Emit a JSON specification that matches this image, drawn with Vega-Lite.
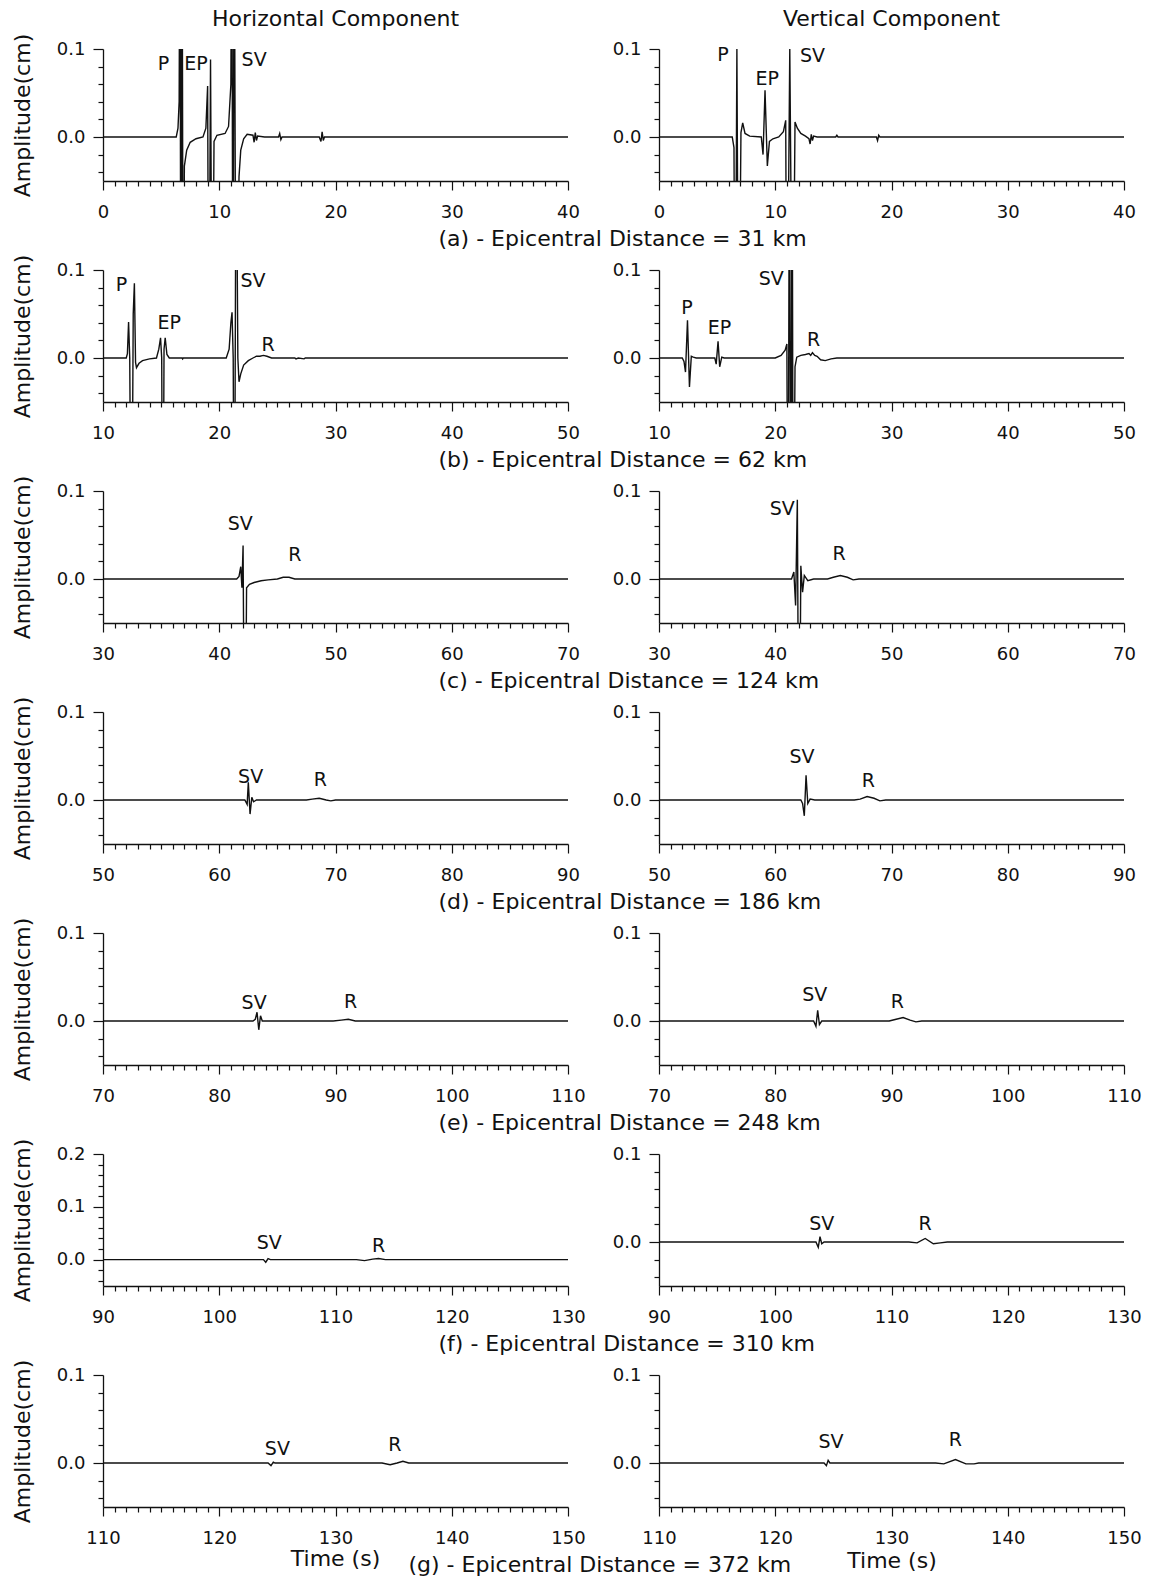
{
"$schema": "https://vega.github.io/schema/vega-lite/v6.json",
"padding": {"left": 11, "top": 8, "right": 5, "bottom": 5},
"background": "white",
"datasets": {
"traces": [
{"p":"aH","t":0,"a":0},{"p":"aH","t":6.3,"a":0},{"p":"aH","t":6.45,"a":0.01},{"p":"aH","t":6.55,"a":0.04},{"p":"aH","t":6.62,"a":0.3},{"p":"aH","t":6.7,"a":-0.3},{"p":"aH","t":6.8,"a":0.3},{"p":"aH","t":6.9,"a":-0.3},{"p":"aH","t":7.0,"a":-0.033},{"p":"aH","t":7.2,"a":-0.015},{"p":"aH","t":7.5,"a":-0.006},{"p":"aH","t":8.0,"a":-0.002},{"p":"aH","t":8.6,"a":0},{"p":"aH","t":8.85,"a":0.01},{"p":"aH","t":9.0,"a":0.058},{"p":"aH","t":9.1,"a":-0.3},{"p":"aH","t":9.25,"a":0.088},{"p":"aH","t":9.4,"a":-0.3},{"p":"aH","t":9.55,"a":-0.005},{"p":"aH","t":9.8,"a":0.002},{"p":"aH","t":10.5,"a":0.004},{"p":"aH","t":10.8,"a":0.012},{"p":"aH","t":11.0,"a":0.06},{"p":"aH","t":11.08,"a":0.3},{"p":"aH","t":11.18,"a":-0.3},{"p":"aH","t":11.28,"a":0.3},{"p":"aH","t":11.45,"a":-0.3},{"p":"aH","t":11.7,"a":-0.045},{"p":"aH","t":11.85,"a":-0.015},{"p":"aH","t":12.1,"a":-0.002},{"p":"aH","t":12.4,"a":0.003},{"p":"aH","t":12.9,"a":0.002},{"p":"aH","t":13.0,"a":-0.006},{"p":"aH","t":13.1,"a":0.005},{"p":"aH","t":13.2,"a":-0.004},{"p":"aH","t":13.3,"a":0.001},{"p":"aH","t":13.9,"a":0},{"p":"aH","t":15.1,"a":0},{"p":"aH","t":15.2,"a":0.004},{"p":"aH","t":15.3,"a":-0.003},{"p":"aH","t":15.4,"a":0},{"p":"aH","t":18.6,"a":0},{"p":"aH","t":18.75,"a":-0.005},{"p":"aH","t":18.85,"a":0.006},{"p":"aH","t":18.95,"a":-0.004},{"p":"aH","t":19.05,"a":0},{"p":"aH","t":40,"a":0},
{"p":"aV","t":0,"a":0},{"p":"aV","t":6.3,"a":0},{"p":"aV","t":6.45,"a":-0.012},{"p":"aV","t":6.55,"a":-0.3},{"p":"aV","t":6.7,"a":0.1},{"p":"aV","t":6.85,"a":-0.3},{"p":"aV","t":7.05,"a":0.005},{"p":"aV","t":7.2,"a":0.016},{"p":"aV","t":7.4,"a":0.004},{"p":"aV","t":7.8,"a":0.001},{"p":"aV","t":8.8,"a":0},{"p":"aV","t":8.95,"a":-0.02},{"p":"aV","t":9.12,"a":0.053},{"p":"aV","t":9.32,"a":-0.033},{"p":"aV","t":9.5,"a":-0.005},{"p":"aV","t":9.8,"a":-0.002},{"p":"aV","t":10.3,"a":0},{"p":"aV","t":10.7,"a":0.006},{"p":"aV","t":10.9,"a":0.019},{"p":"aV","t":11.0,"a":-0.3},{"p":"aV","t":11.25,"a":0.1},{"p":"aV","t":11.5,"a":-0.3},{"p":"aV","t":11.7,"a":0.017},{"p":"aV","t":11.9,"a":0.01},{"p":"aV","t":12.2,"a":0.004},{"p":"aV","t":12.6,"a":0.001},{"p":"aV","t":12.9,"a":-0.002},{"p":"aV","t":13.0,"a":-0.008},{"p":"aV","t":13.1,"a":0.003},{"p":"aV","t":13.2,"a":-0.004},{"p":"aV","t":13.3,"a":0.001},{"p":"aV","t":13.6,"a":0},{"p":"aV","t":15.2,"a":0},{"p":"aV","t":15.3,"a":0.002},{"p":"aV","t":15.4,"a":0},{"p":"aV","t":18.7,"a":0},{"p":"aV","t":18.8,"a":-0.004},{"p":"aV","t":18.9,"a":0.002},{"p":"aV","t":19.0,"a":0},{"p":"aV","t":40,"a":0},
{"p":"bH","t":10,"a":0},{"p":"bH","t":12.0,"a":0},{"p":"bH","t":12.1,"a":0.005},{"p":"bH","t":12.2,"a":0.041},{"p":"bH","t":12.3,"a":0},{"p":"bH","t":12.45,"a":-0.3},{"p":"bH","t":12.6,"a":0.05},{"p":"bH","t":12.7,"a":0.085},{"p":"bH","t":12.8,"a":-0.005},{"p":"bH","t":12.88,"a":-0.011},{"p":"bH","t":13.1,"a":-0.006},{"p":"bH","t":13.4,"a":-0.003},{"p":"bH","t":14.0,"a":-0.001},{"p":"bH","t":14.6,"a":0},{"p":"bH","t":14.8,"a":0.01},{"p":"bH","t":14.95,"a":0.023},{"p":"bH","t":15.05,"a":0},{"p":"bH","t":15.15,"a":-0.3},{"p":"bH","t":15.25,"a":0.01},{"p":"bH","t":15.35,"a":0.023},{"p":"bH","t":15.5,"a":0.004},{"p":"bH","t":15.7,"a":0},{"p":"bH","t":16.8,"a":0},{"p":"bH","t":16.85,"a":-0.001},{"p":"bH","t":16.9,"a":0},{"p":"bH","t":20.6,"a":0},{"p":"bH","t":20.85,"a":0.01},{"p":"bH","t":21.0,"a":0.04},{"p":"bH","t":21.1,"a":0.052},{"p":"bH","t":21.2,"a":0},{"p":"bH","t":21.3,"a":-0.3},{"p":"bH","t":21.45,"a":0.3},{"p":"bH","t":21.6,"a":0},{"p":"bH","t":21.7,"a":-0.027},{"p":"bH","t":21.85,"a":-0.018},{"p":"bH","t":22.1,"a":-0.008},{"p":"bH","t":22.5,"a":-0.003},{"p":"bH","t":22.9,"a":0},{"p":"bH","t":23.2,"a":0.002},{"p":"bH","t":23.5,"a":0.002},{"p":"bH","t":23.8,"a":0.003},{"p":"bH","t":24.1,"a":0.002},{"p":"bH","t":24.5,"a":0},{"p":"bH","t":26.5,"a":0},{"p":"bH","t":26.6,"a":-0.001},{"p":"bH","t":26.8,"a":0},{"p":"bH","t":27.3,"a":-0.001},{"p":"bH","t":27.4,"a":0},{"p":"bH","t":50,"a":0},
{"p":"bV","t":10,"a":0},{"p":"bV","t":12.0,"a":0},{"p":"bV","t":12.15,"a":-0.004},{"p":"bV","t":12.28,"a":-0.016},{"p":"bV","t":12.45,"a":0.043},{"p":"bV","t":12.62,"a":-0.033},{"p":"bV","t":12.78,"a":0.002},{"p":"bV","t":12.95,"a":0.001},{"p":"bV","t":13.2,"a":0},{"p":"bV","t":14.8,"a":0},{"p":"bV","t":14.92,"a":-0.007},{"p":"bV","t":15.08,"a":0.019},{"p":"bV","t":15.22,"a":-0.01},{"p":"bV","t":15.4,"a":0.001},{"p":"bV","t":15.6,"a":0},{"p":"bV","t":20.0,"a":0},{"p":"bV","t":20.5,"a":0.003},{"p":"bV","t":20.85,"a":0.009},{"p":"bV","t":21.0,"a":0.016},{"p":"bV","t":21.1,"a":-0.3},{"p":"bV","t":21.22,"a":0.3},{"p":"bV","t":21.35,"a":-0.3},{"p":"bV","t":21.45,"a":0.3},{"p":"bV","t":21.55,"a":-0.3},{"p":"bV","t":21.7,"a":-0.01},{"p":"bV","t":21.85,"a":0.001},{"p":"bV","t":22.2,"a":0.003},{"p":"bV","t":22.6,"a":0.004},{"p":"bV","t":22.9,"a":0.005},{"p":"bV","t":23.05,"a":0.003},{"p":"bV","t":23.2,"a":0.006},{"p":"bV","t":23.4,"a":0.003},{"p":"bV","t":23.6,"a":0.002},{"p":"bV","t":23.9,"a":-0.002},{"p":"bV","t":24.3,"a":-0.003},{"p":"bV","t":24.8,"a":-0.001},{"p":"bV","t":25.3,"a":0},{"p":"bV","t":50,"a":0},
{"p":"cH","t":30,"a":0},{"p":"cH","t":41.5,"a":0},{"p":"cH","t":41.7,"a":0.003},{"p":"cH","t":41.85,"a":0.014},{"p":"cH","t":41.95,"a":-0.01},{"p":"cH","t":42.05,"a":0.038},{"p":"cH","t":42.2,"a":-0.3},{"p":"cH","t":42.35,"a":-0.01},{"p":"cH","t":42.6,"a":-0.006},{"p":"cH","t":43.0,"a":-0.004},{"p":"cH","t":43.6,"a":-0.002},{"p":"cH","t":44.2,"a":-0.001},{"p":"cH","t":45.0,"a":0},{"p":"cH","t":45.5,"a":0.002},{"p":"cH","t":46.0,"a":0.002},{"p":"cH","t":46.5,"a":0},{"p":"cH","t":70,"a":0},
{"p":"cV","t":30,"a":0},{"p":"cV","t":41.4,"a":0},{"p":"cV","t":41.6,"a":0.008},{"p":"cV","t":41.75,"a":-0.03},{"p":"cV","t":41.9,"a":0.09},{"p":"cV","t":42.05,"a":-0.3},{"p":"cV","t":42.2,"a":0.015},{"p":"cV","t":42.35,"a":-0.015},{"p":"cV","t":42.5,"a":0.004},{"p":"cV","t":42.8,"a":-0.002},{"p":"cV","t":43.3,"a":0},{"p":"cV","t":44.5,"a":0},{"p":"cV","t":45.0,"a":0.002},{"p":"cV","t":45.6,"a":0.004},{"p":"cV","t":46.2,"a":0.002},{"p":"cV","t":46.7,"a":-0.001},{"p":"cV","t":47.2,"a":0},{"p":"cV","t":70,"a":0},
{"p":"dH","t":50,"a":0},{"p":"dH","t":62.2,"a":0},{"p":"dH","t":62.4,"a":-0.005},{"p":"dH","t":62.5,"a":0.02},{"p":"dH","t":62.65,"a":-0.016},{"p":"dH","t":62.8,"a":0.003},{"p":"dH","t":62.95,"a":-0.002},{"p":"dH","t":63.2,"a":0},{"p":"dH","t":67.5,"a":0},{"p":"dH","t":68.0,"a":0.001},{"p":"dH","t":68.6,"a":0.002},{"p":"dH","t":69.2,"a":0},{"p":"dH","t":69.6,"a":-0.001},{"p":"dH","t":70,"a":0},{"p":"dH","t":90,"a":0},
{"p":"dV","t":50,"a":0},{"p":"dV","t":62.2,"a":0},{"p":"dV","t":62.35,"a":-0.004},{"p":"dV","t":62.5,"a":-0.018},{"p":"dV","t":62.65,"a":0.028},{"p":"dV","t":62.8,"a":-0.004},{"p":"dV","t":63.0,"a":0.001},{"p":"dV","t":63.4,"a":0},{"p":"dV","t":66.8,"a":0},{"p":"dV","t":67.3,"a":0.001},{"p":"dV","t":67.9,"a":0.004},{"p":"dV","t":68.5,"a":0.002},{"p":"dV","t":69.0,"a":-0.001},{"p":"dV","t":69.5,"a":0},{"p":"dV","t":90,"a":0},
{"p":"eH","t":70,"a":0},{"p":"eH","t":82.9,"a":0},{"p":"eH","t":83.1,"a":0.002},{"p":"eH","t":83.25,"a":0.01},{"p":"eH","t":83.4,"a":-0.01},{"p":"eH","t":83.55,"a":0.006},{"p":"eH","t":83.7,"a":0},{"p":"eH","t":89.8,"a":0},{"p":"eH","t":90.5,"a":0.001},{"p":"eH","t":91.1,"a":0.002},{"p":"eH","t":91.7,"a":0},{"p":"eH","t":110,"a":0},
{"p":"eV","t":70,"a":0},{"p":"eV","t":83.3,"a":0},{"p":"eV","t":83.5,"a":-0.006},{"p":"eV","t":83.65,"a":0.012},{"p":"eV","t":83.8,"a":-0.004},{"p":"eV","t":84.0,"a":0},{"p":"eV","t":89.8,"a":0},{"p":"eV","t":90.4,"a":0.002},{"p":"eV","t":91.0,"a":0.004},{"p":"eV","t":91.6,"a":0.001},{"p":"eV","t":92.1,"a":-0.001},{"p":"eV","t":92.6,"a":0},{"p":"eV","t":110,"a":0},
{"p":"fH","t":90,"a":0},{"p":"fH","t":103.8,"a":0},{"p":"fH","t":104.0,"a":-0.005},{"p":"fH","t":104.2,"a":0.002},{"p":"fH","t":104.4,"a":0},{"p":"fH","t":111.8,"a":0},{"p":"fH","t":112.5,"a":-0.002},{"p":"fH","t":113.2,"a":0.001},{"p":"fH","t":113.7,"a":0.002},{"p":"fH","t":114.3,"a":0},{"p":"fH","t":130,"a":0},
{"p":"fV","t":90,"a":0},{"p":"fV","t":103.5,"a":0},{"p":"fV","t":103.7,"a":-0.006},{"p":"fV","t":103.85,"a":0.006},{"p":"fV","t":104.0,"a":-0.002},{"p":"fV","t":104.2,"a":0},{"p":"fV","t":111.5,"a":0},{"p":"fV","t":112.2,"a":-0.001},{"p":"fV","t":112.9,"a":0.004},{"p":"fV","t":113.6,"a":-0.002},{"p":"fV","t":114.2,"a":-0.001},{"p":"fV","t":114.8,"a":0},{"p":"fV","t":130,"a":0},
{"p":"gH","t":110,"a":0},{"p":"gH","t":124.2,"a":0},{"p":"gH","t":124.45,"a":-0.003},{"p":"gH","t":124.65,"a":0.001},{"p":"gH","t":124.8,"a":0},{"p":"gH","t":134.0,"a":0},{"p":"gH","t":134.7,"a":-0.002},{"p":"gH","t":135.3,"a":0},{"p":"gH","t":135.8,"a":0.002},{"p":"gH","t":136.3,"a":0},{"p":"gH","t":150,"a":0},
{"p":"gV","t":110,"a":0},{"p":"gV","t":124.2,"a":0},{"p":"gV","t":124.4,"a":-0.003},{"p":"gV","t":124.55,"a":0.003},{"p":"gV","t":124.7,"a":0},{"p":"gV","t":133.8,"a":0},{"p":"gV","t":134.5,"a":-0.001},{"p":"gV","t":135.5,"a":0.004},{"p":"gV","t":136.4,"a":-0.001},{"p":"gV","t":137.1,"a":-0.001},{"p":"gV","t":137.5,"a":0},{"p":"gV","t":150,"a":0}
],
"labels": [
{"p":"aH","t":5.2,"a":0.083,"label":"P"},{"p":"aH","t":8.0,"a":0.083,"label":"EP"},{"p":"aH","t":13.0,"a":0.087,"label":"SV"},
{"p":"aV","t":5.5,"a":0.093,"label":"P"},{"p":"aV","t":9.3,"a":0.066,"label":"EP"},{"p":"aV","t":13.2,"a":0.092,"label":"SV"},
{"p":"bH","t":11.6,"a":0.083,"label":"P"},{"p":"bH","t":15.7,"a":0.04,"label":"EP"},{"p":"bH","t":22.9,"a":0.087,"label":"SV"},{"p":"bH","t":24.2,"a":0.015,"label":"R"},
{"p":"bV","t":12.4,"a":0.057,"label":"P"},{"p":"bV","t":15.2,"a":0.034,"label":"EP"},{"p":"bV","t":19.65,"a":0.09,"label":"SV"},{"p":"bV","t":23.3,"a":0.02,"label":"R"},
{"p":"cH","t":41.8,"a":0.063,"label":"SV"},{"p":"cH","t":46.5,"a":0.027,"label":"R"},
{"p":"cV","t":40.6,"a":0.08,"label":"SV"},{"p":"cV","t":45.5,"a":0.028,"label":"R"},
{"p":"dH","t":62.7,"a":0.026,"label":"SV"},{"p":"dH","t":68.7,"a":0.023,"label":"R"},
{"p":"dV","t":62.3,"a":0.049,"label":"SV"},{"p":"dV","t":68.0,"a":0.022,"label":"R"},
{"p":"eH","t":83.0,"a":0.02,"label":"SV"},{"p":"eH","t":91.3,"a":0.022,"label":"R"},
{"p":"eV","t":83.4,"a":0.03,"label":"SV"},{"p":"eV","t":90.5,"a":0.022,"label":"R"},
{"p":"fH","t":104.3,"a":0.031,"label":"SV"},{"p":"fH","t":113.7,"a":0.025,"label":"R"},
{"p":"fV","t":104.0,"a":0.021,"label":"SV"},{"p":"fV","t":112.9,"a":0.02,"label":"R"},
{"p":"gH","t":125.0,"a":0.016,"label":"SV"},{"p":"gH","t":135.1,"a":0.021,"label":"R"},
{"p":"gV","t":124.8,"a":0.024,"label":"SV"},{"p":"gV","t":135.5,"a":0.026,"label":"R"}
]
},
"columns": 2,
"bounds": "flush",
"spacing": {"row": 89, "column": 91},
"concat": [
{"width": 465, "height": 132, "title": {"text": "Horizontal Component"},
 "encoding": {"x": {"field": "t", "type": "quantitative", "scale": {"domain": [0, 40], "nice": false, "zero": false}, "axis": {"tickCount": 40, "labelExpr": "datum.value % 10 === 0 ? datum.label : ''", "tickSize": {"condition": {"test": "datum.value % 10 === 0", "value": 9}, "value": 5}, "labelPadding": 13, "title": "(a) - Epicentral Distance = 31 km", "titleX": 335, "titleY": 57, "titleAlign": "left", "titleBaseline": "middle"}},
  "y": {"field": "a", "type": "quantitative", "scale": {"domain": [-0.05, 0.1], "nice": false, "zero": false}, "axis": {"values": [-0.04, -0.02, 0, 0.02, 0.04, 0.06, 0.08, 0.1], "labelExpr": "datum.value === 0 || datum.value === 0.1 ? format(datum.value, '.1f') : ''", "tickSize": {"condition": {"test": "datum.value === 0 || datum.value === 0.1", "value": 10}, "value": 5}, "labelPadding": 8, "title": "Amplitude(cm)", "titlePadding": 22}}},
 "layer": [
  {"data": {"name": "traces"}, "transform": [{"filter": "datum.p === 'aH'"}], "mark": {"type": "line", "clip": true, "color": "#111", "strokeWidth": 1.4}},
  {"data": {"name": "labels"}, "transform": [{"filter": "datum.p === 'aH'"}], "mark": {"type": "text", "fontSize": 19, "color": "#111"}, "encoding": {"text": {"field": "label"}}}
 ]},
{"width": 465, "height": 132, "title": {"text": "Vertical Component", "dy": -7},
 "encoding": {"x": {"field": "t", "type": "quantitative", "scale": {"domain": [0, 40], "nice": false, "zero": false}, "axis": {"tickCount": 40, "labelExpr": "datum.value % 10 === 0 ? datum.label : ''", "tickSize": {"condition": {"test": "datum.value % 10 === 0", "value": 9}, "value": 5}, "labelPadding": 13, "title": null}},
  "y": {"field": "a", "type": "quantitative", "scale": {"domain": [-0.05, 0.1], "nice": false, "zero": false}, "axis": {"values": [-0.04, -0.02, 0, 0.02, 0.04, 0.06, 0.08, 0.1], "labelExpr": "datum.value === 0 || datum.value === 0.1 ? format(datum.value, '.1f') : ''", "tickSize": {"condition": {"test": "datum.value === 0 || datum.value === 0.1", "value": 10}, "value": 5}, "labelPadding": 8, "title": null}}},
 "layer": [
  {"data": {"name": "traces"}, "transform": [{"filter": "datum.p === 'aV'"}], "mark": {"type": "line", "clip": true, "color": "#111", "strokeWidth": 1.4}},
  {"data": {"name": "labels"}, "transform": [{"filter": "datum.p === 'aV'"}], "mark": {"type": "text", "fontSize": 19, "color": "#111"}, "encoding": {"text": {"field": "label"}}}
 ]},
{"width": 465, "height": 132,
 "encoding": {"x": {"field": "t", "type": "quantitative", "scale": {"domain": [10, 50], "nice": false, "zero": false}, "axis": {"tickCount": 40, "labelExpr": "datum.value % 10 === 0 ? datum.label : ''", "tickSize": {"condition": {"test": "datum.value % 10 === 0", "value": 9}, "value": 5}, "labelPadding": 13, "title": "(b) - Epicentral Distance = 62 km", "titleX": 335, "titleY": 57, "titleAlign": "left", "titleBaseline": "middle"}},
  "y": {"field": "a", "type": "quantitative", "scale": {"domain": [-0.05, 0.1], "nice": false, "zero": false}, "axis": {"values": [-0.04, -0.02, 0, 0.02, 0.04, 0.06, 0.08, 0.1], "labelExpr": "datum.value === 0 || datum.value === 0.1 ? format(datum.value, '.1f') : ''", "tickSize": {"condition": {"test": "datum.value === 0 || datum.value === 0.1", "value": 10}, "value": 5}, "labelPadding": 8, "title": "Amplitude(cm)", "titlePadding": 22}}},
 "layer": [
  {"data": {"name": "traces"}, "transform": [{"filter": "datum.p === 'bH'"}], "mark": {"type": "line", "clip": true, "color": "#111", "strokeWidth": 1.4}},
  {"data": {"name": "labels"}, "transform": [{"filter": "datum.p === 'bH'"}], "mark": {"type": "text", "fontSize": 19, "color": "#111"}, "encoding": {"text": {"field": "label"}}}
 ]},
{"width": 465, "height": 132,
 "encoding": {"x": {"field": "t", "type": "quantitative", "scale": {"domain": [10, 50], "nice": false, "zero": false}, "axis": {"tickCount": 40, "labelExpr": "datum.value % 10 === 0 ? datum.label : ''", "tickSize": {"condition": {"test": "datum.value % 10 === 0", "value": 9}, "value": 5}, "labelPadding": 13, "title": null}},
  "y": {"field": "a", "type": "quantitative", "scale": {"domain": [-0.05, 0.1], "nice": false, "zero": false}, "axis": {"values": [-0.04, -0.02, 0, 0.02, 0.04, 0.06, 0.08, 0.1], "labelExpr": "datum.value === 0 || datum.value === 0.1 ? format(datum.value, '.1f') : ''", "tickSize": {"condition": {"test": "datum.value === 0 || datum.value === 0.1", "value": 10}, "value": 5}, "labelPadding": 8, "title": null}}},
 "layer": [
  {"data": {"name": "traces"}, "transform": [{"filter": "datum.p === 'bV'"}], "mark": {"type": "line", "clip": true, "color": "#111", "strokeWidth": 1.4}},
  {"data": {"name": "labels"}, "transform": [{"filter": "datum.p === 'bV'"}], "mark": {"type": "text", "fontSize": 19, "color": "#111"}, "encoding": {"text": {"field": "label"}}}
 ]},
{"width": 465, "height": 132,
 "encoding": {"x": {"field": "t", "type": "quantitative", "scale": {"domain": [30, 70], "nice": false, "zero": false}, "axis": {"tickCount": 40, "labelExpr": "datum.value % 10 === 0 ? datum.label : ''", "tickSize": {"condition": {"test": "datum.value % 10 === 0", "value": 9}, "value": 5}, "labelPadding": 13, "title": "(c) - Epicentral Distance = 124 km", "titleX": 335, "titleY": 57, "titleAlign": "left", "titleBaseline": "middle"}},
  "y": {"field": "a", "type": "quantitative", "scale": {"domain": [-0.05, 0.1], "nice": false, "zero": false}, "axis": {"values": [-0.04, -0.02, 0, 0.02, 0.04, 0.06, 0.08, 0.1], "labelExpr": "datum.value === 0 || datum.value === 0.1 ? format(datum.value, '.1f') : ''", "tickSize": {"condition": {"test": "datum.value === 0 || datum.value === 0.1", "value": 10}, "value": 5}, "labelPadding": 8, "title": "Amplitude(cm)", "titlePadding": 22}}},
 "layer": [
  {"data": {"name": "traces"}, "transform": [{"filter": "datum.p === 'cH'"}], "mark": {"type": "line", "clip": true, "color": "#111", "strokeWidth": 1.4}},
  {"data": {"name": "labels"}, "transform": [{"filter": "datum.p === 'cH'"}], "mark": {"type": "text", "fontSize": 19, "color": "#111"}, "encoding": {"text": {"field": "label"}}}
 ]},
{"width": 465, "height": 132,
 "encoding": {"x": {"field": "t", "type": "quantitative", "scale": {"domain": [30, 70], "nice": false, "zero": false}, "axis": {"tickCount": 40, "labelExpr": "datum.value % 10 === 0 ? datum.label : ''", "tickSize": {"condition": {"test": "datum.value % 10 === 0", "value": 9}, "value": 5}, "labelPadding": 13, "title": null}},
  "y": {"field": "a", "type": "quantitative", "scale": {"domain": [-0.05, 0.1], "nice": false, "zero": false}, "axis": {"values": [-0.04, -0.02, 0, 0.02, 0.04, 0.06, 0.08, 0.1], "labelExpr": "datum.value === 0 || datum.value === 0.1 ? format(datum.value, '.1f') : ''", "tickSize": {"condition": {"test": "datum.value === 0 || datum.value === 0.1", "value": 10}, "value": 5}, "labelPadding": 8, "title": null}}},
 "layer": [
  {"data": {"name": "traces"}, "transform": [{"filter": "datum.p === 'cV'"}], "mark": {"type": "line", "clip": true, "color": "#111", "strokeWidth": 1.4}},
  {"data": {"name": "labels"}, "transform": [{"filter": "datum.p === 'cV'"}], "mark": {"type": "text", "fontSize": 19, "color": "#111"}, "encoding": {"text": {"field": "label"}}}
 ]},
{"width": 465, "height": 132,
 "encoding": {"x": {"field": "t", "type": "quantitative", "scale": {"domain": [50, 90], "nice": false, "zero": false}, "axis": {"tickCount": 40, "labelExpr": "datum.value % 10 === 0 ? datum.label : ''", "tickSize": {"condition": {"test": "datum.value % 10 === 0", "value": 9}, "value": 5}, "labelPadding": 13, "title": "(d) - Epicentral Distance = 186 km", "titleX": 335, "titleY": 57, "titleAlign": "left", "titleBaseline": "middle"}},
  "y": {"field": "a", "type": "quantitative", "scale": {"domain": [-0.05, 0.1], "nice": false, "zero": false}, "axis": {"values": [-0.04, -0.02, 0, 0.02, 0.04, 0.06, 0.08, 0.1], "labelExpr": "datum.value === 0 || datum.value === 0.1 ? format(datum.value, '.1f') : ''", "tickSize": {"condition": {"test": "datum.value === 0 || datum.value === 0.1", "value": 10}, "value": 5}, "labelPadding": 8, "title": "Amplitude(cm)", "titlePadding": 22}}},
 "layer": [
  {"data": {"name": "traces"}, "transform": [{"filter": "datum.p === 'dH'"}], "mark": {"type": "line", "clip": true, "color": "#111", "strokeWidth": 1.4}},
  {"data": {"name": "labels"}, "transform": [{"filter": "datum.p === 'dH'"}], "mark": {"type": "text", "fontSize": 19, "color": "#111"}, "encoding": {"text": {"field": "label"}}}
 ]},
{"width": 465, "height": 132,
 "encoding": {"x": {"field": "t", "type": "quantitative", "scale": {"domain": [50, 90], "nice": false, "zero": false}, "axis": {"tickCount": 40, "labelExpr": "datum.value % 10 === 0 ? datum.label : ''", "tickSize": {"condition": {"test": "datum.value % 10 === 0", "value": 9}, "value": 5}, "labelPadding": 13, "title": null}},
  "y": {"field": "a", "type": "quantitative", "scale": {"domain": [-0.05, 0.1], "nice": false, "zero": false}, "axis": {"values": [-0.04, -0.02, 0, 0.02, 0.04, 0.06, 0.08, 0.1], "labelExpr": "datum.value === 0 || datum.value === 0.1 ? format(datum.value, '.1f') : ''", "tickSize": {"condition": {"test": "datum.value === 0 || datum.value === 0.1", "value": 10}, "value": 5}, "labelPadding": 8, "title": null}}},
 "layer": [
  {"data": {"name": "traces"}, "transform": [{"filter": "datum.p === 'dV'"}], "mark": {"type": "line", "clip": true, "color": "#111", "strokeWidth": 1.4}},
  {"data": {"name": "labels"}, "transform": [{"filter": "datum.p === 'dV'"}], "mark": {"type": "text", "fontSize": 19, "color": "#111"}, "encoding": {"text": {"field": "label"}}}
 ]},
{"width": 465, "height": 132,
 "encoding": {"x": {"field": "t", "type": "quantitative", "scale": {"domain": [70, 110], "nice": false, "zero": false}, "axis": {"tickCount": 40, "labelExpr": "datum.value % 10 === 0 ? datum.label : ''", "tickSize": {"condition": {"test": "datum.value % 10 === 0", "value": 9}, "value": 5}, "labelPadding": 13, "title": "(e) - Epicentral Distance = 248 km", "titleX": 335, "titleY": 57, "titleAlign": "left", "titleBaseline": "middle"}},
  "y": {"field": "a", "type": "quantitative", "scale": {"domain": [-0.05, 0.1], "nice": false, "zero": false}, "axis": {"values": [-0.04, -0.02, 0, 0.02, 0.04, 0.06, 0.08, 0.1], "labelExpr": "datum.value === 0 || datum.value === 0.1 ? format(datum.value, '.1f') : ''", "tickSize": {"condition": {"test": "datum.value === 0 || datum.value === 0.1", "value": 10}, "value": 5}, "labelPadding": 8, "title": "Amplitude(cm)", "titlePadding": 22}}},
 "layer": [
  {"data": {"name": "traces"}, "transform": [{"filter": "datum.p === 'eH'"}], "mark": {"type": "line", "clip": true, "color": "#111", "strokeWidth": 1.4}},
  {"data": {"name": "labels"}, "transform": [{"filter": "datum.p === 'eH'"}], "mark": {"type": "text", "fontSize": 19, "color": "#111"}, "encoding": {"text": {"field": "label"}}}
 ]},
{"width": 465, "height": 132,
 "encoding": {"x": {"field": "t", "type": "quantitative", "scale": {"domain": [70, 110], "nice": false, "zero": false}, "axis": {"tickCount": 40, "labelExpr": "datum.value % 10 === 0 ? datum.label : ''", "tickSize": {"condition": {"test": "datum.value % 10 === 0", "value": 9}, "value": 5}, "labelPadding": 13, "title": null}},
  "y": {"field": "a", "type": "quantitative", "scale": {"domain": [-0.05, 0.1], "nice": false, "zero": false}, "axis": {"values": [-0.04, -0.02, 0, 0.02, 0.04, 0.06, 0.08, 0.1], "labelExpr": "datum.value === 0 || datum.value === 0.1 ? format(datum.value, '.1f') : ''", "tickSize": {"condition": {"test": "datum.value === 0 || datum.value === 0.1", "value": 10}, "value": 5}, "labelPadding": 8, "title": null}}},
 "layer": [
  {"data": {"name": "traces"}, "transform": [{"filter": "datum.p === 'eV'"}], "mark": {"type": "line", "clip": true, "color": "#111", "strokeWidth": 1.4}},
  {"data": {"name": "labels"}, "transform": [{"filter": "datum.p === 'eV'"}], "mark": {"type": "text", "fontSize": 19, "color": "#111"}, "encoding": {"text": {"field": "label"}}}
 ]},
{"width": 465, "height": 132,
 "encoding": {"x": {"field": "t", "type": "quantitative", "scale": {"domain": [90, 130], "nice": false, "zero": false}, "axis": {"tickCount": 40, "labelExpr": "datum.value % 10 === 0 ? datum.label : ''", "tickSize": {"condition": {"test": "datum.value % 10 === 0", "value": 9}, "value": 5}, "labelPadding": 13, "title": "(f) - Epicentral Distance = 310 km", "titleX": 335, "titleY": 57, "titleAlign": "left", "titleBaseline": "middle"}},
  "y": {"field": "a", "type": "quantitative", "scale": {"domain": [-0.05, 0.2], "nice": false, "zero": false}, "axis": {"values": [-0.04, -0.02, 0, 0.02, 0.04, 0.06, 0.08, 0.1, 0.12, 0.14, 0.16, 0.18, 0.2], "labelExpr": "datum.value === 0 || datum.value === 0.1 || datum.value === 0.2 ? format(datum.value, '.1f') : ''", "tickSize": {"condition": {"test": "datum.value === 0 || datum.value === 0.1 || datum.value === 0.2", "value": 10}, "value": 5}, "labelPadding": 8, "title": "Amplitude(cm)", "titlePadding": 22}}},
 "layer": [
  {"data": {"name": "traces"}, "transform": [{"filter": "datum.p === 'fH'"}], "mark": {"type": "line", "clip": true, "color": "#111", "strokeWidth": 1.4}},
  {"data": {"name": "labels"}, "transform": [{"filter": "datum.p === 'fH'"}], "mark": {"type": "text", "fontSize": 19, "color": "#111"}, "encoding": {"text": {"field": "label"}}}
 ]},
{"width": 465, "height": 132,
 "encoding": {"x": {"field": "t", "type": "quantitative", "scale": {"domain": [90, 130], "nice": false, "zero": false}, "axis": {"tickCount": 40, "labelExpr": "datum.value % 10 === 0 ? datum.label : ''", "tickSize": {"condition": {"test": "datum.value % 10 === 0", "value": 9}, "value": 5}, "labelPadding": 13, "title": null}},
  "y": {"field": "a", "type": "quantitative", "scale": {"domain": [-0.05, 0.1], "nice": false, "zero": false}, "axis": {"values": [-0.04, -0.02, 0, 0.02, 0.04, 0.06, 0.08, 0.1], "labelExpr": "datum.value === 0 || datum.value === 0.1 ? format(datum.value, '.1f') : ''", "tickSize": {"condition": {"test": "datum.value === 0 || datum.value === 0.1", "value": 10}, "value": 5}, "labelPadding": 8, "title": null}}},
 "layer": [
  {"data": {"name": "traces"}, "transform": [{"filter": "datum.p === 'fV'"}], "mark": {"type": "line", "clip": true, "color": "#111", "strokeWidth": 1.4}},
  {"data": {"name": "labels"}, "transform": [{"filter": "datum.p === 'fV'"}], "mark": {"type": "text", "fontSize": 19, "color": "#111"}, "encoding": {"text": {"field": "label"}}}
 ]},
{"width": 465, "height": 132, "title": {"text": "Time (s)", "orient": "bottom", "frame": "group", "anchor": "middle", "offset": 0, "dy": -26},
 "encoding": {"x": {"field": "t", "type": "quantitative", "scale": {"domain": [110, 150], "nice": false, "zero": false}, "axis": {"tickCount": 40, "labelExpr": "datum.value % 10 === 0 ? datum.label : ''", "tickSize": {"condition": {"test": "datum.value % 10 === 0", "value": 9}, "value": 5}, "labelPadding": 13, "title": "(g) - Epicentral Distance = 372 km", "titleX": 305, "titleY": 57, "titleAlign": "left", "titleBaseline": "middle"}},
  "y": {"field": "a", "type": "quantitative", "scale": {"domain": [-0.05, 0.1], "nice": false, "zero": false}, "axis": {"values": [-0.04, -0.02, 0, 0.02, 0.04, 0.06, 0.08, 0.1], "labelExpr": "datum.value === 0 || datum.value === 0.1 ? format(datum.value, '.1f') : ''", "tickSize": {"condition": {"test": "datum.value === 0 || datum.value === 0.1", "value": 10}, "value": 5}, "labelPadding": 8, "title": "Amplitude(cm)", "titlePadding": 22}}},
 "layer": [
  {"data": {"name": "traces"}, "transform": [{"filter": "datum.p === 'gH'"}], "mark": {"type": "line", "clip": true, "color": "#111", "strokeWidth": 1.4}},
  {"data": {"name": "labels"}, "transform": [{"filter": "datum.p === 'gH'"}], "mark": {"type": "text", "fontSize": 19, "color": "#111"}, "encoding": {"text": {"field": "label"}}}
 ]},
{"width": 465, "height": 132,
 "encoding": {"x": {"field": "t", "type": "quantitative", "scale": {"domain": [110, 150], "nice": false, "zero": false}, "axis": {"tickCount": 40, "labelExpr": "datum.value % 10 === 0 ? datum.label : ''", "tickSize": {"condition": {"test": "datum.value % 10 === 0", "value": 9}, "value": 5}, "labelPadding": 13, "title": "Time (s)", "titleY": 53, "titleBaseline": "middle"}},
  "y": {"field": "a", "type": "quantitative", "scale": {"domain": [-0.05, 0.1], "nice": false, "zero": false}, "axis": {"values": [-0.04, -0.02, 0, 0.02, 0.04, 0.06, 0.08, 0.1], "labelExpr": "datum.value === 0 || datum.value === 0.1 ? format(datum.value, '.1f') : ''", "tickSize": {"condition": {"test": "datum.value === 0 || datum.value === 0.1", "value": 10}, "value": 5}, "labelPadding": 8, "title": null}}},
 "layer": [
  {"data": {"name": "traces"}, "transform": [{"filter": "datum.p === 'gV'"}], "mark": {"type": "line", "clip": true, "color": "#111", "strokeWidth": 1.4}},
  {"data": {"name": "labels"}, "transform": [{"filter": "datum.p === 'gV'"}], "mark": {"type": "text", "fontSize": 19, "color": "#111"}, "encoding": {"text": {"field": "label"}}}
 ]}
],
"config": {
 "font": "DejaVu Sans",
 "view": {"stroke": null},
 "axis": {"grid": false, "domainColor": "#111", "domainWidth": 1.3, "tickColor": "#111", "tickWidth": 1.2, "labelFont": "DejaVu Sans", "labelFontSize": 18, "labelColor": "#111", "titleFont": "DejaVu Sans", "titleFontSize": 22, "titleFontWeight": "normal", "titleColor": "#111", "labelOverlap": false, "labelFlush": false, "labelBound": false},
 "title": {"font": "DejaVu Sans", "fontSize": 22, "fontWeight": "normal", "color": "#111", "frame": "group", "anchor": "middle", "offset": 2},
 "text": {"font": "DejaVu Sans"}
}
}
